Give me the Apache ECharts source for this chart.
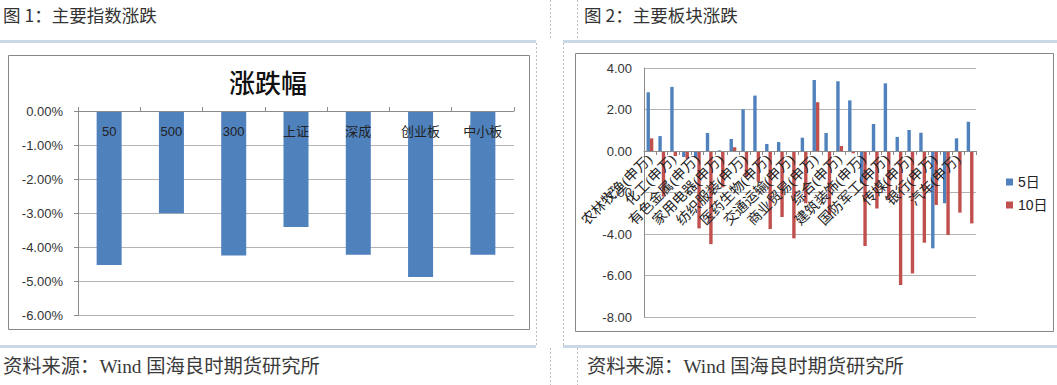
<!DOCTYPE html>
<html>
<head>
<meta charset="utf-8">
<script src="https://cdn.jsdelivr.net/npm/echarts@6/dist/echarts.min.js"></script>
<style>
  html, body { margin: 0; padding: 0; background: #fff; }
  #page { width: 1057px; height: 385px; }
</style>
</head>
<body>
<div id="page"></div>
<script>
// Figure 1: weekly change of the main indices (%)
const indexNames = ['50', '500', '300', '上证', '深成', '创业板', '中小板'];
const indexChange = [-4.52, -3.00, -4.24, -3.40, -4.22, -4.87, -4.22];

// Figure 2: Shenwan level-1 sector changes over 5 and 10 days
const sectorNames = [
  '农林牧渔(申万)', '采掘(申万)', '化工(申万)', '钢铁(申万)', '有色金属(申万)',
  '电子(申万)', '家用电器(申万)', '食品饮料(申万)', '纺织服装(申万)', '轻工制造(申万)',
  '医药生物(申万)', '公用事业(申万)', '交通运输(申万)', '房地产(申万)', '商业贸易(申万)',
  '休闲服务(申万)', '综合(申万)', '建筑材料(申万)', '建筑装饰(申万)', '电气设备(申万)',
  '国防军工(申万)', '计算机(申万)', '传媒(申万)', '通信(申万)', '银行(申万)',
  '非银金融(申万)', '汽车(申万)', '机械设备(申万)'
];
const change5d = [2.83, 0.72, 3.09, -0.29, -0.31, 0.87, 0.03, 0.58, 2.01, 2.67,
                  0.34, 0.43, -0.02, 0.64, 3.42, 0.87, 3.36, 2.44, -1.56, 1.30,
                  3.26, 0.68, 1.01, 0.88, -4.69, -2.52, 0.61, 1.41];
const change10d = [0.61, -2.20, -0.24, -0.37, -3.73, -4.49, -1.75, 0.18, -1.24, -1.48,
                   -3.76, -3.18, -4.21, -2.52, 2.35, -3.09, 0.24, -0.11, -4.58, -2.77,
                   -2.33, -6.46, -5.90, -4.42, -2.60, -4.05, -2.97, -3.49];
const seriesNames = ['5日', '10日'];

// Axis ranges
const indexAxis = { min: -6, max: 0, step: 1 };
const sectorAxis = { min: -8, max: 4, step: 2 };

// Plot areas
const indexGrid = { left: 78, top: 111, width: 436, height: 204.5 };
const sectorGrid = { left: 644, top: 68, width: 332, height: 249 };
// the sector category axis sits on the zero line: shift it up from the grid bottom
const sectorZeroLift = (0 - sectorAxis.min) / (sectorAxis.max - sectorAxis.min) * sectorGrid.height;

const SANS = '"Liberation Sans", "Noto Sans CJK SC", sans-serif';
const SERIF = '"Liberation Serif", "Noto Sans CJK SC", serif';
const CJK = '"Noto Sans CJK SC", sans-serif';
const AXIS_GREY = '#8c8c8c';
const GRID_GREY = '#b4b4b4';
const BLUE = '#4f81bd';
const RED = '#c0504d';

const chart = echarts.init(document.getElementById('page'), null, { renderer: 'svg' });

function pageText(x, y, text, size, family, extra) {
  return {
    type: 'text', x: x, y: y, silent: true, z: 20,
    style: Object.assign({ text: text, fill: '#333', fontSize: size, fontFamily: family, align: 'left', verticalAlign: 'middle' }, extra || {})
  };
}
function band(x, y, w, h) {
  return { type: 'rect', shape: { x: x, y: y, width: w, height: h }, style: { fill: '#cbd8e5' }, silent: true, z: -10 };
}
function dotted(x, y1, y2) {
  return { type: 'line', shape: { x1: x, y1: y1, x2: x, y2: y2 },
           style: { stroke: '#bdbdbd', lineWidth: 1, lineDash: [2, 2] }, silent: true, z: -10 };
}
function frame(x, y, w, h) {
  return { type: 'rect', shape: { x: x, y: y, width: w, height: h },
           style: { fill: 'none', stroke: '#878787', lineWidth: 1 }, silent: true, z: -5 };
}

chart.setOption({
  animation: false,
  backgroundColor: '#fff',
  graphic: [
    band(0, 40, 536, 3), band(563, 40, 494, 3),
    band(0, 345, 536, 3), band(563, 345, 494, 3),
    dotted(550.5, 0, 40), dotted(577.5, 0, 40),
    dotted(536.5, 43, 345), dotted(563.5, 43, 345),
    dotted(550.5, 348, 385), dotted(577.5, 348, 385),
    frame(8.5, 55.5, 521, 274), frame(575.5, 53.5, 478, 278),
    pageText(3, 14, '图 1：主要指数涨跌', 17.5, CJK),
    pageText(584, 14, '图 2：主要板块涨跌', 17.5, CJK),
    pageText(3, 366, '资料来源：Wind 国海良时期货研究所', 19.3, SERIF, { fill: '#3a3a3a' }),
    pageText(587, 366, '资料来源：Wind 国海良时期货研究所', 19.3, SERIF, { fill: '#3a3a3a' }),
    pageText(268, 81, '涨跌幅', 26, CJK, { fill: '#111', fontWeight: 500, align: 'center' })
  ],
  grid: [
    Object.assign({ outerBoundsMode: 'none' }, indexGrid),
    Object.assign({ outerBoundsMode: 'none' }, sectorGrid)
  ],
  legend: {
    data: seriesNames, orient: 'vertical', left: 1001, top: 170,
    icon: 'rect', itemWidth: 7, itemHeight: 7, itemGap: 9,
    textStyle: { fontSize: 14, color: '#222', fontFamily: SANS }
  },
  xAxis: [
    {
      type: 'category', gridIndex: 0, data: indexNames, position: 'top', z: 10,
      axisLine: { onZero: false, lineStyle: { color: AXIS_GREY } },
      axisTick: { show: true, length: 4, lineStyle: { color: AXIS_GREY } },
      axisLabel: { inside: true, margin: 20, verticalAlign: 'middle', fontSize: 13, color: '#222', fontFamily: SANS }
    },
    {
      type: 'category', gridIndex: 1, data: sectorNames, position: 'bottom', z: 10,
      offset: -sectorZeroLift,
      axisLine: { onZero: false, lineStyle: { color: AXIS_GREY } },
      axisTick: { show: true, length: 4, interval: 0, lineStyle: { color: AXIS_GREY } },
      axisLabel: { rotate: 45, interval: 1, margin: 6, fontSize: 14, color: '#222', fontFamily: SERIF }
    }
  ],
  yAxis: [
    {
      type: 'value', gridIndex: 0, min: indexAxis.min, max: indexAxis.max, interval: indexAxis.step,
      axisLine: { show: true, lineStyle: { color: AXIS_GREY } },
      axisTick: { show: true, length: 4, lineStyle: { color: AXIS_GREY } },
      splitLine: { lineStyle: { color: GRID_GREY } },
      axisLabel: { margin: 15, fontSize: 13, color: '#333', fontFamily: SANS, formatter: v => v.toFixed(2) + '%' }
    },
    {
      type: 'value', gridIndex: 1, min: sectorAxis.min, max: sectorAxis.max, interval: sectorAxis.step,
      axisLine: { show: true, lineStyle: { color: AXIS_GREY } },
      axisTick: { show: false },
      splitLine: { lineStyle: { color: GRID_GREY } },
      axisLabel: { margin: 12, fontSize: 13, color: '#333', fontFamily: SANS, formatter: v => v.toFixed(2) }
    }
  ],
  series: [
    { type: 'bar', xAxisIndex: 0, yAxisIndex: 0, data: indexChange, barWidth: 25, itemStyle: { color: BLUE } },
    { type: 'bar', name: seriesNames[0], xAxisIndex: 1, yAxisIndex: 1, data: change5d,
      barWidth: '28.6%', barGap: '0%', itemStyle: { color: BLUE } },
    { type: 'bar', name: seriesNames[1], xAxisIndex: 1, yAxisIndex: 1, data: change10d,
      barWidth: '28.6%', barGap: '0%', itemStyle: { color: RED } }
  ]
});
</script>
</body>
</html>
